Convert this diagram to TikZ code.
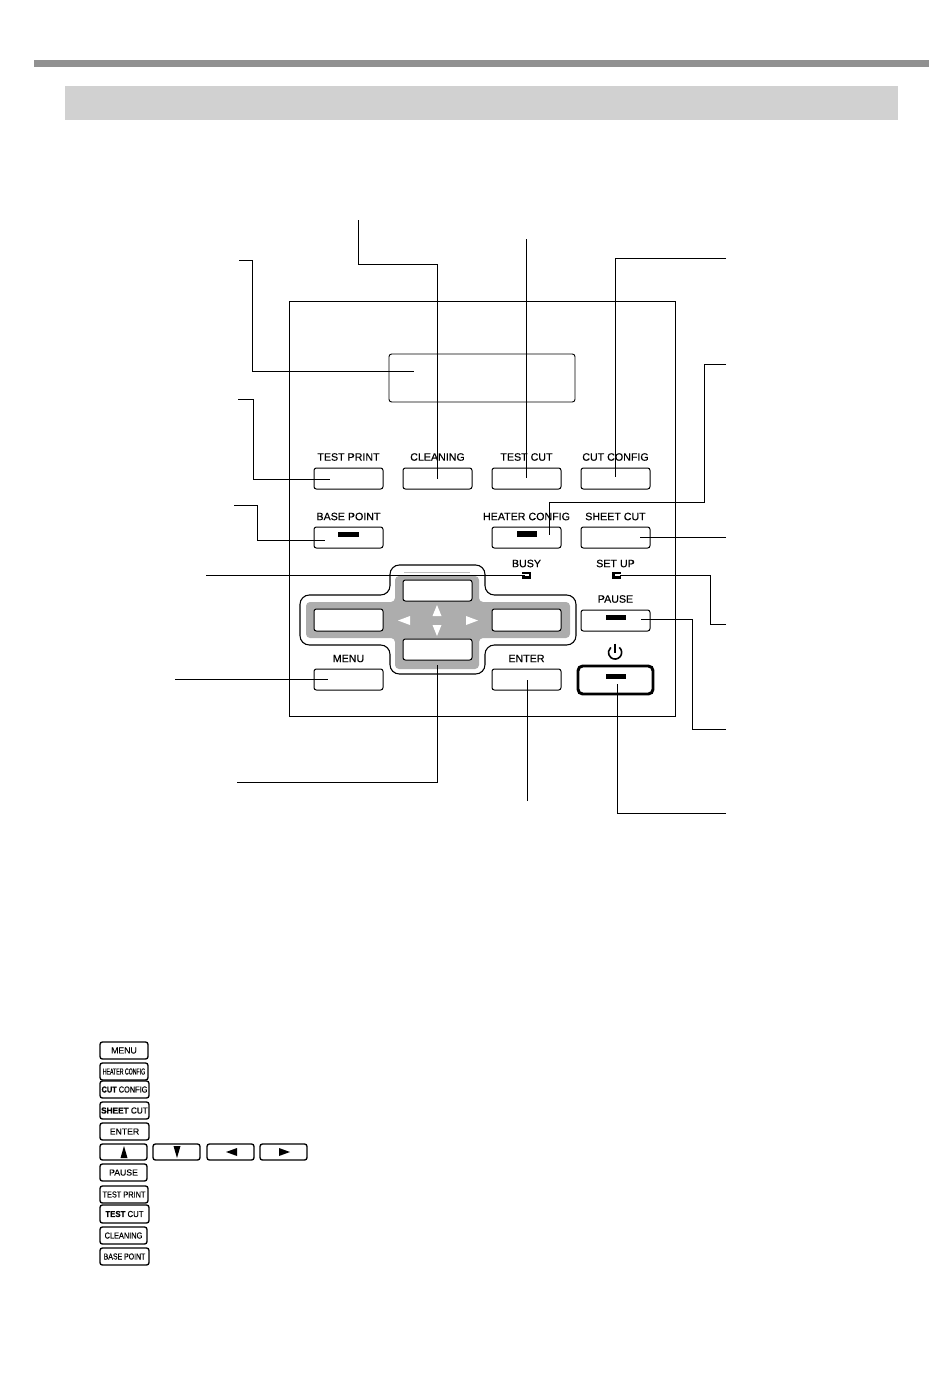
\documentclass[tikz,border=0pt]{standalone}
\usepackage{fontspec}
\setmainfont{Liberation Sans}
\newfontfamily\capfont[FakeBold=0.25]{Liberation Sans}
\newcommand{\btn}[7][]{\node[btnbox,#1,minimum width={(#5-#3)*0.75pt},minimum height={(#6-#4)*0.75pt}] (#2) at ({(#3+#5)/2},{(#4+#6)/2}) {#7};}
\newcommand{\cond}[2]{\scalebox{#1}[1]{#2}}
\tikzset{
 btnbox/.style={draw=black,line width=0.75pt,rounded corners=1.8pt,inner sep=0pt,outer sep=0pt,font=\capfont\fontsize{6.5pt}{7pt}\selectfont},
 lgdbox/.style={line width=1pt},
 ledbar/.style={fill=black,draw=none,inner sep=0pt,outer sep=0pt},
 caption/.style={inner sep=0pt,font=\capfont\fontsize{8pt}{9pt}\selectfont},
 callout/.style={line width=0.7pt,draw=black},
 tri/.style={fill=white,draw=none}
}
\begin{document}
\begin{tikzpicture}[x=0.75pt,y=-0.75pt]
\useasboundingbox (0,0) rectangle (950,1378);
\fill[white] (0,0) rectangle (950,1378);
% header
\node[fill=black!43,minimum width={895*0.75pt},minimum height={7*0.75pt},inner sep=0pt] (topbar) at (481.5,63.5) {};
\node[fill=black!18,minimum width={833*0.75pt},minimum height={34*0.75pt},inner sep=0pt] (band) at (481.5,103) {};
% panel and display
\node[draw,line width=0.75pt,minimum width={386*0.75pt},minimum height={415*0.75pt},inner sep=0pt] (panel) at (482,508.5) {};
\node[draw,line width=0.7pt,rounded corners=2pt,minimum width={186*0.75pt},minimum height={48*0.75pt},inner sep=0pt] (display) at (482,378) {};
% cross
\fill[black!32,rounded corners=3pt] (395,576)--(479,576)--(479,602)--(570,602)--(570,638)--(479,638)--(479,669)--(395,669)--(395,638)--(306,638)--(306,602)--(395,602)--cycle;
\draw[line width=0.8pt,rounded corners=7pt] (390,595)--(390,565)--(485,565)--(485,595)--(576,595)--(576,645)--(485,645)--(485,674)--(390,674)--(390,645)--(300,645)--(300,595)--cycle;
\draw[black!25,line width=0.6pt] (404,572)--(470,572);
\fill[tri] (437,605)--(441.5,616)--(432.5,616)--cycle;
\fill[tri] (437,636)--(441.5,625)--(432.5,625)--cycle;
\fill[tri] (398,620.5)--(410,616)--(410,625)--cycle;
\fill[tri] (478,620.5)--(466,616)--(466,625)--cycle;
% buttons
\btn{tp}{314}{468}{383}{489}{}
\btn{cl}{403}{468}{472}{489}{}
\btn{tc}{492}{468}{561}{489}{}
\btn{cc}{581}{468}{650}{489}{}
\btn{bp}{314}{527}{383}{548}{}
\btn{hc}{492}{527}{561}{548}{}
\btn{sc}{581}{527}{650}{548}{}
\btn[fill=white]{up}{403}{580}{472}{601}{}
\btn[fill=white]{lf}{314}{609}{383}{631}{}
\btn[fill=white]{rt}{492}{609}{561}{631}{}
\btn{pa}{581}{610}{650}{631}{}
\btn[fill=white]{dn}{403}{639}{472}{660}{}
\btn{me}{314}{669}{383}{690}{}
\btn{en}{492}{669}{561}{690}{}
\btn[line width=2.2pt,rounded corners=3.5pt]{pw}{578}{666}{653}{694}{}
% leds
\node[ledbar,minimum width={21*0.75pt},minimum height={5*0.75pt}] (ledb) at (348.5,534.5) {};
\node[ledbar,minimum width={20*0.75pt},minimum height={6*0.75pt}] (ledh) at (527,534) {};
\node[ledbar,minimum width={20*0.75pt},minimum height={5*0.75pt}] (ledp) at (616,617.5) {};
\node[ledbar,minimum width={20*0.75pt},minimum height={5*0.75pt}] (ledw) at (616,676.5) {};
\node[ledbar,minimum width={9*0.75pt},minimum height={7*0.75pt}] (ledbusy) at (526.5,575) {};
\node[ledbar,minimum width={9*0.75pt},minimum height={7*0.75pt}] (ledset) at (616.5,575) {};
\fill[white] (522,574) rectangle (528.5,576.2);
\fill[white] (614.5,574) rectangle (621,576.2);
% power symbol
\draw[line width=1.2pt] (619.3,647.4) arc[start angle=-50,end angle=230,radius=6.6];
\draw[line width=1.2pt] (615,643.5)--(615,653);
% captions
\node[caption] (ttp) at (348.5,457) {TEST PRINT};
\node[caption] (tcl) at (437.5,457) {CLEANING};
\node[caption] (ttc) at (526.5,457) {TEST CUT};
\node[caption] (tcc) at (615.5,457) {CUT CONFIG};
\node[caption] (tbp) at (348.5,516.5) {BASE POINT};
\node[caption] (thc) at (526.5,516.5) {HEATER CONFIG};
\node[caption] (tsc) at (615.5,516.5) {SHEET CUT};
\node[caption] (tbu) at (526.5,563.5) {BUSY};
\node[caption] (tsu) at (615.5,563.5) {SET UP};
\node[caption] (tpa) at (615.5,599) {PAUSE};
\node[caption] (tme) at (348.5,658.5) {MENU};
\node[caption] (ten) at (526.5,658.5) {ENTER};
% connector ends
\coordinate (e1) at (414,371); \coordinate (s1) at (239,260);
\coordinate (e2) at (437,479); \coordinate (s2) at (358,220);
\coordinate (e3) at (526,478); \coordinate (s3) at (526,239);
\coordinate (e4) at (615,477); \coordinate (s4) at (726,258);
\coordinate (e5) at (549,535); \coordinate (s5) at (726,364);
\coordinate (e6) at (640,537); \coordinate (s6) at (726,537);
\coordinate (e7) at (620,575); \coordinate (s7) at (726,624);
\coordinate (e8) at (641,619); \coordinate (s8) at (726,729);
\coordinate (e9) at (617,684); \coordinate (s9) at (726,813);
\coordinate (e10) at (527,680); \coordinate (s10) at (527,801);
\coordinate (e11) at (437,665); \coordinate (s11) at (237,782);
\coordinate (e12) at (328,679); \coordinate (s12) at (175,679);
\coordinate (e13) at (525,575); \coordinate (s13) at (206,575);
\coordinate (e14) at (325,540); \coordinate (s14) at (234,505);
\coordinate (e15) at (330,479); \coordinate (s15) at (238,399);
\draw[callout] (s1)--(252,260)--(252,371)--(e1);
\draw[callout] (s2)--(358,264)--(437,264)--(e2);
\draw[callout] (s3)--(e3);
\draw[callout] (s4)--(615,258)--(e4);
\draw[callout] (s5)--(704,364)--(704,502)--(549,502)--(e5);
\draw[callout] (s6)--(e6);
\draw[callout] (s7)--(710,624)--(710,575)--(e7);
\draw[callout] (s8)--(692,729)--(692,619)--(e8);
\draw[callout] (s9)--(617,813)--(e9);
\draw[callout] (s10)--(e10);
\draw[callout] (s11)--(437,782)--(e11);
\draw[callout] (s12)--(e12);
\draw[callout] (s13)--(e13);
\draw[callout] (s14)--(257,505)--(257,540)--(e14);
\draw[callout] (s15)--(253,399)--(253,479)--(e15);
% legend
\btn[lgdbox]{lme}{100}{1042}{148}{1059}{MENU}
\btn[lgdbox]{lhc}{100}{1063}{148}{1080}{\cond{0.6}{HEATER CONFIG}}
\btn[lgdbox]{lcc}{100}{1081}{149}{1098}{\cond{0.85}{\textbf{CUT} CONFIG}}
\btn[lgdbox]{lsc}{100}{1102}{149}{1119}{\cond{0.95}{\textbf{SHEET} CUT}}
\btn[lgdbox]{len}{100}{1123}{149}{1140}{ENTER}
\btn[lgdbox]{lup}{100}{1144}{147}{1160}{}
\btn[lgdbox]{ldn}{153}{1144}{200}{1160}{}
\btn[lgdbox]{llf}{207}{1144}{254}{1160}{}
\btn[lgdbox]{lrt}{260}{1144}{307}{1160}{}
\btn[lgdbox]{lpa}{100}{1164}{147}{1181}{PAUSE}
\btn[lgdbox]{ltp}{100}{1186}{148}{1203}{\cond{0.85}{TEST PRINT}}
\btn[lgdbox]{ltc}{100}{1205}{149}{1223}{\cond{0.9}{\textbf{TEST} CUT}}
\btn[lgdbox]{lcl}{100}{1227}{147}{1244}{\cond{0.85}{CLEANING}}
\btn[lgdbox]{lbp}{100}{1248}{149}{1265}{\cond{0.8}{BASE POINT}}
\fill (124,1146)--(127.5,1158)--(120.5,1158)--cycle;
\fill (177,1158)--(180.5,1146)--(173.5,1146)--cycle;
\fill (226,1152)--(237,1148)--(237,1156)--cycle;
\fill (290,1152)--(279,1148)--(279,1156)--cycle;
\end{tikzpicture}
\end{document}
